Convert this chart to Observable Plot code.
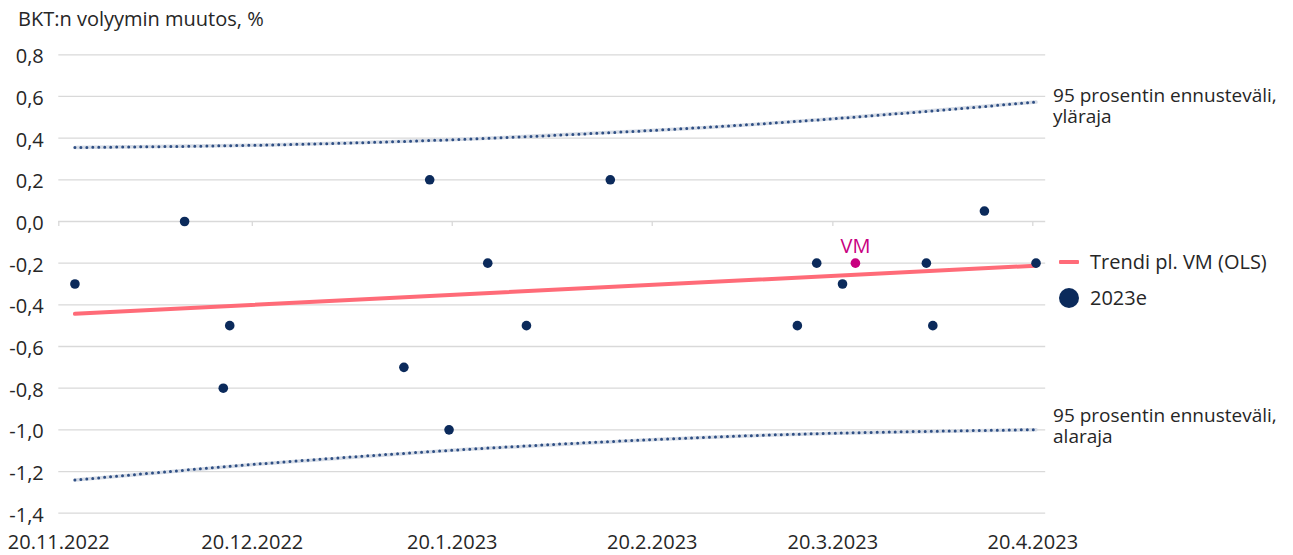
<!DOCTYPE html>
<html><head><meta charset="utf-8">
<script src="https://cdn.jsdelivr.net/npm/d3@7"></script>
<script src="https://cdn.jsdelivr.net/npm/@observablehq/plot@0.6"></script>
<style>
body{margin:0;background:#fff;font-family:"Open Sans",sans-serif;color:#262626}
#wrap{position:relative;width:1293px;height:555px;overflow:hidden}
#chart{position:absolute;left:0;top:0}
#chart svg{display:block}
.t{position:absolute;font-size:20px;line-height:20px;white-space:nowrap;color:#262626}
</style></head><body>
<div id="wrap">
<div id="chart"></div>
<div class="t" style="left:18px;top:9px">BKT:n volyymin muutos, %</div>
<div style="position:absolute;left:1059px;top:259.7px;width:20px;height:4px;background:#ff6b78;border-radius:1px"></div>
<div class="t" style="left:1090px;top:252px">Trendi pl. VM (OLS)</div>
<div style="position:absolute;left:1059px;top:288px;width:20px;height:20px;border-radius:50%;background:#0b2a5b"></div>
<div class="t" style="left:1090px;top:288px">2023e</div>
</div>
<script>
// ---- data ----
const pointDates = ["2022-11-22","2022-12-09","2022-12-15","2022-12-16","2023-01-12","2023-01-16","2023-01-19","2023-01-25","2023-01-31","2023-02-13","2023-03-14","2023-03-17","2023-03-21","2023-04-03","2023-04-04","2023-04-12","2023-04-20"];
const pointValues = [-0.3, 0.0, -0.8, -0.5, -0.7, 0.2, -1.0, -0.2, -0.5, 0.2, -0.5, -0.2, -0.3, -0.2, -0.5, 0.05, -0.2];
const vmDates = ["2023-03-23"];
const vmValues = [-0.2];
const vmLabels = ["VM"];
const trendDates = ["2022-11-22","2023-04-20"];
const trendValues = [-0.443, -0.212];
const bandDates = ["2022-11-22","2022-12-20","2023-01-20","2023-02-20","2023-03-20","2023-04-20"];
const upperValues = [0.355, 0.366, 0.393, 0.438, 0.494, 0.573];
const lowerValues = [-1.241, -1.165, -1.097, -1.046, -1.016, -0.999];
const upperLabel = "95 prosentin ennusteväli,\nyläraja";
const lowerLabel = "95 prosentin ennusteväli,\nalaraja";
const xTickDates = ["2022-11-20","2022-12-20","2023-01-20","2023-02-20","2023-03-20","2023-04-20"];
const yTicks = [-1.4,-1.2,-1.0,-0.8,-0.6,-0.4,-0.2,0,0.2,0.4,0.6,0.8];
const xDomain = ["2022-11-20","2023-04-22"];

// ---- build ----
const atNoon = s => new Date(s + "T12:00:00Z");
const atDay = s => new Date(s + "T00:00:00Z");
const pts = pointDates.map((d,i)=>({date:atNoon(d), value:pointValues[i]}));
const vm = vmDates.map((d,i)=>({date:atNoon(d), value:vmValues[i], label:vmLabels[i]}));
const trend = trendDates.map((d,i)=>({date:atNoon(d), value:trendValues[i]}));
const upper = bandDates.map((d,i)=>({date:atNoon(d), value:upperValues[i]}));
const lower = bandDates.map((d,i)=>({date:atNoon(d), value:lowerValues[i]}));
const xTicks = xTickDates.map(atDay);
const fmtY = v => v.toFixed(1).replace(".", ",");
const fmtX = d => `${d.getUTCDate()}.${d.getUTCMonth()+1}.${d.getUTCFullYear()}`;

const bandStyle = {x:"date", y:"value", curve:"natural"};
const chart = Plot.plot({
  width:1293, height:555,
  marginLeft:58.3, marginRight:247.8, marginTop:54.3, marginBottom:42.3,
  style:{fontFamily:"'Open Sans', sans-serif", fontSize:"20px", color:"#262626", background:"transparent"},
  x:{type:"utc", domain:xDomain.map(atDay)},
  y:{domain:[-1.4,0.8]},
  marks:[
    Plot.ruleY(yTicks, {stroke:"#d9d9d9", strokeWidth:1.3}),
    Plot.ruleX(xTicks, {x:d=>d, y1:0, y2:0, insetBottom:-5, stroke:"#d9d9d9", strokeWidth:1.3}),
    Plot.line(upper, {...bandStyle, stroke:"#d6dce6", strokeWidth:3.5}),
    Plot.line(upper, {...bandStyle, stroke:"#2f4f84", strokeWidth:3, strokeDasharray:"0 6", strokeLinecap:"round"}),
    Plot.line(lower, {...bandStyle, stroke:"#d6dce6", strokeWidth:3.5}),
    Plot.line(lower, {...bandStyle, stroke:"#2f4f84", strokeWidth:3, strokeDasharray:"0 6", strokeLinecap:"round"}),
    Plot.line(trend, {x:"date", y:"value", stroke:"#ff6b78", strokeWidth:4}),
    Plot.dot(pts, {x:"date", y:"value", r:4.8, fill:"#0b2a5b", stroke:"none"}),
    Plot.dot(vm, {x:"date", y:"value", r:4.8, fill:"#c8007f", stroke:"none"}),
    Plot.text(vm, {x:"date", y:"value", text:"label", dy:-17, fill:"#c8007f", fontSize:20}),
    Plot.text([upper[upper.length-1]], {x:"date", y:"value", text:()=>upperLabel, textAnchor:"start", lineAnchor:"middle", lineHeight:1.1, dx:17, dy:4, fill:"#262626", fontSize:19}),
    Plot.text([lower[lower.length-1]], {x:"date", y:"value", text:()=>lowerLabel, textAnchor:"start", lineAnchor:"middle", lineHeight:1.1, dx:17, dy:-4, fill:"#262626", fontSize:19}),
    Plot.axisY({ticks:yTicks, tickSize:0, tickPadding:15, tickFormat:fmtY, label:null, dy:2, fontSize:20}),
    Plot.axisX({ticks:xTicks, tickSize:0, tickPadding:22, tickFormat:fmtX, label:null, fontSize:20})
  ]
});
document.getElementById("chart").appendChild(chart);
</script>
</body></html>
